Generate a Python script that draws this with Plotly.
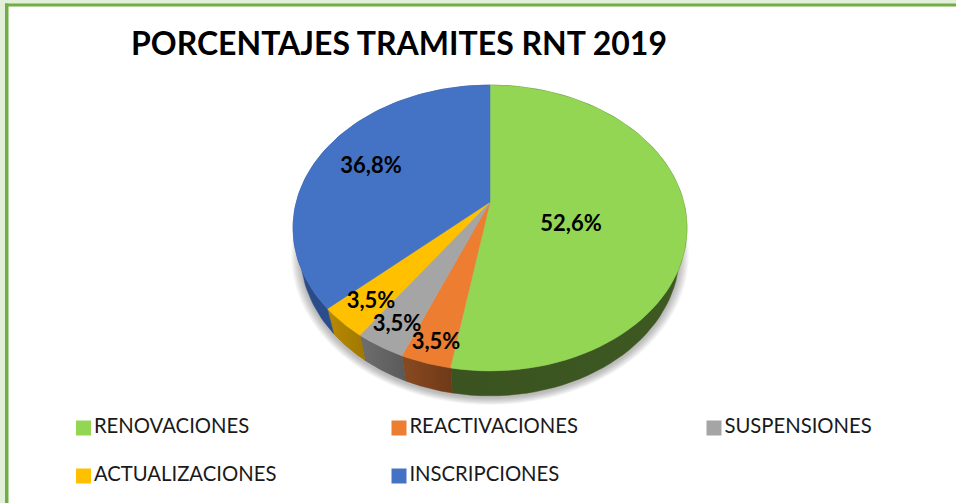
import math
import plotly.graph_objects as go

# Data
categories = ["RENOVACIONES", "REACTIVACIONES", "SUSPENSIONES", "ACTUALIZACIONES", "INSCRIPCIONES"]
percentages = [52.6, 3.5, 3.5, 3.5, 36.8]
title_text = "PORCENTAJES TRAMITES RNT 2019"

# Styling
top_colors = ["#92D654", "#ED7D31", "#A5A5A5", "#FFC000", "#4472C4"]
wall_colors = [
    ["#3A5320", "#3E5922"],
    ["#8A4A20", "#6E3A18"],
    ["#6E6E6E", "#5A5A5A"],
    ["#B88A00", "#A07800"],
    ["#2A4B88", "#2F5597"],
]
label_xy = [(571, 225), (436, 343), (397, 325), (371, 302), (371, 167)]
legend_xy = [(83.5, 428), (399, 428), (714, 428), (83.5, 476), (399, 476)]

# Projection of the tilted disc onto the page (pixel space of the 956x503 page)
CX, CY, RX, RY, PERSP, DEPTH, BASE_X = 490, 202, 193.7, 138.2, 0.1818, 25, 0.962


def rim(theta, dy=0.0, sx=1.0):
    w = 1 + PERSP * math.cos(theta)
    return CX + sx * RX * math.sin(theta) / w, CY - RY * math.cos(theta) / w + dy


def arc(a, b, dy=0.0, sx=1.0, n=80):
    return [rim(a + (b - a) * i / n, dy, sx) for i in range(n + 1)]


total = sum(percentages)
edges = [0.0]
for p in percentages:
    edges.append(edges[-1] + 2 * math.pi * p / total)

fig = go.Figure()

# soft shadow below the pie
full = arc(0, 2 * math.pi, 0, BASE_X, 160)
for k in range(9):
    grow = 1 + (9 - k) * 0.0055
    sx = [CX + (x - CX) * grow for x, y in full]
    sy = [228 + (y - 228) * grow + DEPTH + 2 for x, y in full]
    fig.add_trace(go.Scatter(x=sx, y=sy, mode="none", fill="toself",
                             fillcolor="rgba(0,0,0,0.03)", showlegend=False, hoverinfo="skip"))

# side walls
for i in range(len(percentages)):
    a, b = edges[i], edges[i + 1]
    up = arc(a, b)
    down = arc(b, a, DEPTH, BASE_X)
    pts = up + down + up[:1]
    fig.add_trace(go.Scatter(
        x=[p[0] for p in pts], y=[p[1] for p in pts], mode="lines", fill="toself",
        line=dict(color=wall_colors[i][1], width=0.5),
        fillgradient=dict(type="horizontal", colorscale=[[0, wall_colors[i][0]], [1, wall_colors[i][1]]]),
        showlegend=False, hoverinfo="skip"))

# top faces
for i, name in enumerate(categories):
    a, b = edges[i], edges[i + 1]
    pts = [(CX, CY)] + arc(a, b) + [(CX, CY)]
    fig.add_trace(go.Scatter(
        x=[p[0] for p in pts], y=[p[1] for p in pts], mode="lines", fill="toself",
        fillcolor=top_colors[i], line=dict(color=top_colors[i], width=0.5),
        name=name, showlegend=False, hovertemplate=f"{name}: {percentages[i]:.1f}%<extra></extra>"))

# legend entries
for i, name in enumerate(categories):
    fig.add_trace(go.Scatter(
        x=[legend_xy[i][0]], y=[legend_xy[i][1]], mode="markers+text", name=name,
        text=[name], textposition="middle right",
        textfont=dict(family="Lato", size=20.3, color="#1a1a1a"),
        marker=dict(symbol="square", size=15, color=top_colors[i], line_width=0),
        showlegend=False, hoverinfo="skip"))

# data labels
fig.add_trace(go.Scatter(
    x=[p[0] for p in label_xy], y=[p[1] for p in label_xy], mode="text",
    text=[f"{v:.1f}%".replace(".", ",") for v in percentages],
    textposition="middle center",
    textfont=dict(family="Lato", size=22, color="#000000", weight="bold"),
    showlegend=False, hoverinfo="skip"))

shapes = [
    dict(type="rect", xref="paper", yref="paper", x0=0, x1=1, y0=1, y1=1 - 4 / 503, layer="below",
         fillcolor="#E2EFD9", line_width=0),
    dict(type="rect", xref="paper", yref="paper", x0=0, x1=5 / 956, y0=0, y1=1, layer="below",
         fillcolor="#E2EFD9", line_width=0),
    dict(type="rect", xref="paper", yref="paper", x0=5 / 956, x1=1, y0=1 - 3.5 / 503, y1=1 - 6.5 / 503, layer="below",
         fillcolor="#70AD47", line_width=0),
    dict(type="rect", xref="paper", yref="paper", x0=5 / 956, x1=8.5 / 956, y0=0, y1=1 - 3.5 / 503, layer="below",
         fillcolor="#70AD47", line_width=0),
]

fig.update_layout(
    width=956, height=503, margin=dict(l=0, r=0, t=0, b=0),
    paper_bgcolor="white", plot_bgcolor="white", shapes=shapes,
    xaxis=dict(range=[0, 956], visible=False, fixedrange=True),
    yaxis=dict(range=[503, 0], visible=False, fixedrange=True),
    title=dict(text=title_text, x=131 / 956, xanchor="left", y=1 - 44 / 503, yanchor="middle",
               font=dict(family="Lato", size=32, color="#000000", weight="bold")),
    showlegend=False,
)
fig.write_html("out.html", config=dict(displayModeBar=False),
               post_script="document.body.style.margin='0';document.documentElement.style.overflow='hidden';")
